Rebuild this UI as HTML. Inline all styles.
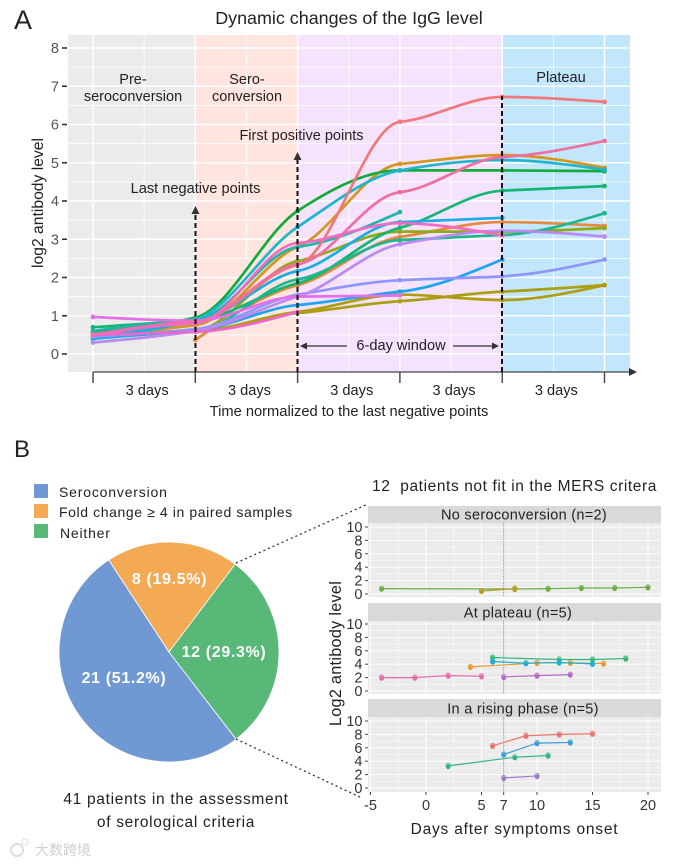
<!DOCTYPE html>
<html lang="en">
<head>
<meta charset="utf-8">
<title>IgG dynamics and serological criteria</title>
<style>
html,body{margin:0;padding:0;background:#fff;width:685px;height:864px;overflow:hidden}
svg{display:block;font-family:"Liberation Sans","Noto Sans CJK SC",sans-serif}
text{fill:#222}
</style>
</head>
<body>
<svg id="fig" xmlns="http://www.w3.org/2000/svg" width="685" height="864" viewBox="0 0 685 864">
  <text x="14" y="29" font-size="27">A</text>
  <text x="14" y="457" font-size="24">B</text>
  <text x="349" y="24" font-size="17.9" text-anchor="middle">Dynamic changes of the IgG level</text>
  <g id="panelA"></g>
  <g id="panelAnnot">
    <text x="133" y="84" font-size="14.5" text-anchor="middle">Pre-</text>
    <text x="133" y="101" font-size="14.5" text-anchor="middle">seroconversion</text>
    <text x="247" y="84" font-size="14.5" text-anchor="middle">Sero-</text>
    <text x="247" y="101" font-size="14.5" text-anchor="middle">conversion</text>
    <text x="561" y="82" font-size="14.6" text-anchor="middle">Plateau</text>
    <text x="301.5" y="140" font-size="14.5" text-anchor="middle">First positive points</text>
    <text x="195.5" y="193" font-size="14.6" text-anchor="middle">Last negative points</text>
    <line x1="195.5" y1="372" x2="195.5" y2="212" stroke="#111" stroke-width="2" stroke-dasharray="5 3"/>
    <path d="M195.5 206L191.5 214H199.5Z" fill="#333"/>
    <line x1="297.5" y1="372" x2="297.5" y2="159" stroke="#111" stroke-width="2" stroke-dasharray="5 3"/>
    <path d="M297.5 152L293.5 160H301.5Z" fill="#333"/>
    <line x1="502" y1="372" x2="502" y2="96" stroke="#111" stroke-width="2" stroke-dasharray="5 3"/>
    <line x1="347" y1="346" x2="306" y2="346" stroke="#333" stroke-width="1.2"/>
    <path d="M300 346L307 342.5V349.5Z" fill="#333"/>
    <line x1="453" y1="346" x2="493" y2="346" stroke="#333" stroke-width="1.2"/>
    <path d="M499 346L492 342.5V349.5Z" fill="#333"/>
    <text x="401" y="350" font-size="14.6" text-anchor="middle">6-day window</text>
    <text x="349" y="416" font-size="14.7" text-anchor="middle">Time normalized to the last negative points</text>
    <text transform="translate(43 203) rotate(-90)" font-size="15.7" text-anchor="middle">log2 antibody level</text>
  </g>
  <g id="legend">
    <rect x="34" y="484" width="14" height="14" fill="#7099D3"/>
    <text x="59" y="497" font-size="14" letter-spacing="0.82">Seroconversion</text>
    <rect x="34" y="504" width="14" height="14" fill="#F4A955"/>
    <text x="59" y="517" font-size="14" letter-spacing="0.6">Fold change ≥ 4 in paired samples</text>
    <rect x="34" y="524" width="14" height="14" fill="#57B878"/>
    <text x="60" y="538" font-size="14" letter-spacing="0.8">Neither</text>
  </g>
  <g id="pie"></g>
  <line x1="236" y1="563" x2="368" y2="504" stroke="#333" stroke-width="1.3" stroke-dasharray="2 3"/>
  <line x1="236" y1="739" x2="362" y2="798" stroke="#333" stroke-width="1.3" stroke-dasharray="2 3"/>
  <text x="176" y="804" font-size="15.5" letter-spacing="0.7" text-anchor="middle">41 patients in the assessment</text>
  <text x="176" y="827" font-size="15.5" letter-spacing="0.7" text-anchor="middle">of serological criteria</text>
  <text x="514.5" y="491" font-size="15.5" letter-spacing="0.6" text-anchor="middle">12 &#160;patients not fit in the MERS critera</text>
  <g id="facets"></g>
  <text transform="translate(341 653.5) rotate(-90)" font-size="16.2" letter-spacing="0.3" text-anchor="middle">Log2 antibody level</text>
  <text x="514.5" y="834" font-size="15.5" letter-spacing="0.8" text-anchor="middle">Days after symptoms onset</text>
  <text x="35" y="855" font-size="14" style="fill:#cfcfcf">大数跨境</text>
  <circle cx="17" cy="850" r="6" fill="none" stroke="#ddd" stroke-width="2"/>
  <circle cx="25" cy="842" r="3" fill="none" stroke="#ddd" stroke-width="1"/>
</svg>
<script>
// ---- Panel A data ----
const dayTicks = [0, 3, 6, 9, 12, 15];
const yTicksA = [0, 1, 2, 3, 4, 5, 6, 7, 8];
const intervalLabels = ["3 days", "3 days", "3 days", "3 days", "3 days"];
const seriesGold = [0.45, 0.75, 2.8, 4.97, 5.2, 4.87];
const seriesSalmon = [0.5, 0.85, 2.33, 6.07, 6.72, 6.59];
const seriesRose = [0.5, 0.85, 2.35, 4.23, 5.15, 5.57];
const seriesCyan = [0.45, 0.9, 3.32, 4.8, 5.07, 4.82];
const seriesGreen = [0.6, 0.95, 3.74, 4.8, 4.8, 4.78];
const seriesEmerald = [0.7, 0.88, 1.85, 3.3, 4.27, 4.39];
const seriesTeal = [0.6, 0.9, 2.8, 3.71, null, null];
const seriesSea = [0.4, 0.6, 1.95, 2.98, 3.11, 3.68];
const seriesSky = [0.4, 0.85, 2.17, 3.45, 3.56, null];
const seriesOrange = [null, 0.37, 1.8, 3.06, 3.45, 3.35];
const seriesOliveGreen = [0.5, 0.62, 2.43, 3.2, 3.2, 3.29];
const seriesPurple = [0.3, 0.6, 1.5, 2.87, 3.22, 3.07];
const seriesOrchid = [0.5, 0.8, 2.9, 3.42, 3.1, null];
const seriesPeriwinkle = [0.45, 0.65, 1.55, 1.93, 2.03, 2.47];
const seriesAzure = [0.4, 0.62, 1.28, 1.63, 2.47, null];
const seriesOliveA = [0.55, 0.6, 1.07, 1.38, 1.63, 1.8];
const seriesOliveB = [0.5, 0.58, 1.1, 1.55, 1.41, 1.8];
const seriesViolet = [0.97, 0.87, 1.5, 1.53, null, null];
const seriesMagenta = [0.5, 0.58, 1.1, null, null, null];

// ---- Panel B data ----
const pieLabels = ["21 (51.2%)", "8 (19.5%)", "12 (29.3%)"];
const pieValues = [21, 8, 12];

// ---- Facet data ----
const facetTitles = ["No seroconversion (n=2)", "At plateau (n=5)", "In a rising phase (n=5)"];
const facetYTicks = [0, 2, 4, 6, 8, 10];
const facetXTicks = [-5, 0, 5, 7, 10, 15, 20];
const p1GreenDays = [-4, 8, 11, 14, 17, 20];
const p1GreenVals = [0.8, 0.75, 0.8, 0.9, 0.9, 1.0];
const p1GoldDays = [5, 8];
const p1GoldVals = [0.45, 0.8];
const p2GreenDays = [6, 12, 15, 18];
const p2GreenVals = [5.0, 4.7, 4.7, 4.85];
const p2BlueDays = [6, 9, 12, 15];
const p2BlueVals = [4.4, 4.15, 4.25, 4.05];
const p2OrangeDays = [4, 10, 13, 16];
const p2OrangeVals = [3.6, 4.2, 4.2, 4.1];
const p2PinkDays = [-4, -1, 2, 5];
const p2PinkVals = [2.0, 2.0, 2.3, 2.2];
const p2PurpleDays = [7, 10, 13];
const p2PurpleVals = [2.1, 2.3, 2.45];
const p3RedDays = [6, 9, 12, 15];
const p3RedVals = [6.3, 7.8, 8.0, 8.1];
const p3BlueDays = [7, 10, 13];
const p3BlueVals = [5.0, 6.7, 6.8];
const p3GreenDays = [2, 8, 11];
const p3GreenVals = [3.3, 4.6, 4.85];
const p3PurpleDays = [7, 10];
const p3PurpleVals = [1.5, 1.8];

// ---- Helpers ----
const NS = "http://www.w3.org/2000/svg";
function mk(parent, tag, props, txt) {
  const el = document.createElementNS(NS, tag);
  for (const k in props) el.setAttribute(k, props[k]);
  if (txt !== undefined) el.textContent = txt;
  parent.appendChild(el);
  return el;
}
function smoothPath(pts, ease) {
  const n = pts.length;
  if (n < 2) return "";
  const s = [], m = [];
  for (let i = 0; i < n - 1; i++) s.push((pts[i + 1][1] - pts[i][1]) / (pts[i + 1][0] - pts[i][0]));
  for (let i = 1; i < n - 1; i++) {
    const sign = (Math.sign(s[i - 1]) + Math.sign(s[i])) || 0;
    m[i] = ease * sign * Math.min(Math.abs(s[i - 1]), Math.abs(s[i]), 0.25 * Math.abs(s[i - 1] + s[i]));
  }
  m[0] = n > 2 ? (3 * s[0] - m[1]) / 2 : s[0];
  m[n - 1] = n > 2 ? (3 * s[n - 2] - m[n - 2]) / 2 : s[0];
  let d = "M" + pts[0][0].toFixed(2) + " " + pts[0][1].toFixed(2);
  for (let i = 0; i < n - 1; i++) {
    const h = (pts[i + 1][0] - pts[i][0]) / 3;
    d += "C" + (pts[i][0] + h).toFixed(2) + " " + (pts[i][1] + m[i] * h).toFixed(2) + " " +
      (pts[i + 1][0] - h).toFixed(2) + " " + (pts[i + 1][1] - m[i + 1] * h).toFixed(2) + " " +
      pts[i + 1][0].toFixed(2) + " " + pts[i + 1][1].toFixed(2);
  }
  return d;
}

// ---- Panel A ----
(function () {
  const g = document.getElementById("panelA");
  const xA = d => 93 + d * 34.1;
  const yA = v => 354 - v * 38.25;
  const bandEdges = [[68, xA(3), "#EBEBEB", "band-pre-seroconversion"], [xA(3), xA(6), "#FFE4E0", "band-seroconversion"], [xA(6), xA(12), "#F5E2FC", "band-window"], [xA(12), 630, "#C2E6FC", "band-plateau"]];
  bandEdges.forEach(b => {
    const r = mk(g, "rect", { x: b[0], y: 35, width: b[1] - b[0], height: 337, fill: b[2] });
    
    
  });
  yTicksA.forEach(v => {
    const l = mk(g, "line", { x1: 68, x2: 630, y1: yA(v), y2: yA(v), stroke: "#fff", "stroke-width": 1.5 });
    
    
    const lm = mk(g, "line", { x1: 68, x2: 630, y1: yA(v + 0.5), y2: yA(v + 0.5), stroke: "#fff", "stroke-width": 0.8 });
    
    
    const t = mk(g, "line", { x1: 62, x2: 67, y1: yA(v), y2: yA(v), stroke: "#333", "stroke-width": 1.6 });
    
    
    const tx = mk(g, "text", { x: 59, y: yA(v) + 5, "font-size": 14.5, "text-anchor": "end", style: "fill:#555" }, String(v));
    
    
  });
  dayTicks.forEach(d => {
    const l = mk(g, "line", { x1: xA(d), x2: xA(d), y1: 35, y2: 372, stroke: "#fff", "stroke-width": 1.5 });
    
    
    if (d < 15) {
      const lm = mk(g, "line", { x1: xA(d + 1.5), x2: xA(d + 1.5), y1: 35, y2: 372, stroke: "#fff", "stroke-width": 0.8 });
      
      
    }
  });
  const seriesList = [
    [seriesGold, "#D4961E", "series-gold", 0.5], [seriesOrange, "#E58A3C", "series-orange", 0.5],
    [seriesOliveA, "#A8A010", "series-olive-a", 0.6], [seriesOliveB, "#B09C10", "series-olive-b", 0.6],
    [seriesOliveGreen, "#8FAA1A", "series-olive-green", 0.4], [seriesEmerald, "#16B574", "series-emerald", 0.55],
    [seriesGreen, "#12AC3C", "series-green", 0.9], [seriesSea, "#1DB68E", "series-sea", 0.35],
    [seriesTeal, "#1FB6A8", "series-teal", 0.25], [seriesCyan, "#1FB5CC", "series-cyan", 0.9],
    [seriesAzure, "#1EA5F0", "series-azure", 0.45], [seriesSky, "#19ADE4", "series-sky", 0.4],
    [seriesPeriwinkle, "#8E96FA", "series-periwinkle", 0.7], [seriesPurple, "#B98AF0", "series-purple", 0.7],
    [seriesSalmon, "#F0787A", "series-salmon", 0.2], [seriesViolet, "#E46FE8", "series-violet", 0.3],
    [seriesMagenta, "#EE66C8", "series-magenta", 0.6], [seriesRose, "#EE6FA0", "series-rose", 0.2],
    [seriesOrchid, "#F06CC0", "series-orchid", 0.15]
  ];
  seriesList.forEach(s => {
    const pts = [];
    s[0].forEach((v, i) => { if (v !== null) pts.push([xA(dayTicks[i]), yA(v)]); });
    const p = mk(g, "path", { d: smoothPath(pts, s[3]), fill: "none", stroke: s[1], "stroke-width": 2.7, "stroke-linecap": "round" });
    
    
    pts.forEach(pt => {
      const c = mk(g, "circle", { cx: pt[0], cy: pt[1], r: 2.4, fill: s[1] });
      
      
    });
  });
  const axis = mk(g, "line", { x1: 93, x2: 630, y1: 372, y2: 372, stroke: "#444", "stroke-width": 1.2 });
  
  
  const head = mk(g, "path", { d: "M637 372L629 368V376Z", fill: "#333" });
  
  
  dayTicks.forEach(d => {
    const t = mk(g, "line", { x1: xA(d), x2: xA(d), y1: 372, y2: 383, stroke: "#444", "stroke-width": 1.4 });
    
    
  });
  intervalLabels.forEach((lab, i) => {
    const t = mk(g, "text", { x: xA(dayTicks[i] + 1.5) + 3, y: 395, "font-size": 14.6, "text-anchor": "middle" }, lab);
    
    
  });
})();

// ---- Pie ----
(function () {
  const g = document.getElementById("pie");
  const cx = 169, cy = 652, r = 110;
  const pieColors = ["#7099D3", "#F4A955", "#57B878"];
  const pieNames = ["slice-seroconversion", "slice-fold-change", "slice-neither"];
  const labelPos = [[124, 683], [169.5, 584], [224, 657]];
  const total = pieValues.reduce((a, b) => a + b, 0);
  let a = 142.4 * Math.PI / 180;
  pieValues.forEach((v, i) => {
    const sweep = v / total * 2 * Math.PI;
    const x0 = cx + r * Math.sin(a), y0 = cy - r * Math.cos(a);
    const x1 = cx + r * Math.sin(a + sweep), y1 = cy - r * Math.cos(a + sweep);
    const p = mk(g, "path", {
      d: "M" + cx + " " + cy + "L" + x0 + " " + y0 + "A" + r + " " + r + " 0 " + (sweep > Math.PI ? 1 : 0) + " 1 " + x1 + " " + y1 + "Z",
      fill: pieColors[i], stroke: "#fff", "stroke-width": 0.8
    });
    
    
    a += sweep;
  });
  pieLabels.forEach((lab, i) => {
    const t = mk(g, "text", { x: labelPos[i][0], y: labelPos[i][1], "font-size": 16, "font-weight": "bold", "text-anchor": "middle", "letter-spacing": 0.65, style: "fill:#fff" }, lab);
    
    
  });
})();

// ---- Facets ----
(function () {
  const g = document.getElementById("facets");
  const xF = d => 426 + d * 11.1;
  const facets = [
    { top: 506, stripB: 523, bottom: 597, y0: 594, labelX: 524, series: [[p1GreenDays, p1GreenVals, "#6BAE3E"], [p1GoldDays, p1GoldVals, "#B5A020"]] },
    { top: 603, stripB: 621, bottom: 694, y0: 691, labelX: 518, series: [[p2OrangeDays, p2OrangeVals, "#E69B2E"], [p2GreenDays, p2GreenVals, "#35B779"], [p2BlueDays, p2BlueVals, "#1BB0D8"], [p2PinkDays, p2PinkVals, "#E56BA8"], [p2PurpleDays, p2PurpleVals, "#B26BC0"]] },
    { top: 699, stripB: 717, bottom: 792, y0: 788, labelX: 523, series: [[p3RedDays, p3RedVals, "#E8746A"], [p3BlueDays, p3BlueVals, "#3C9BD8"], [p3GreenDays, p3GreenVals, "#35B28C"], [p3PurpleDays, p3PurpleVals, "#9A7CC8"]] }
  ];
  facets.forEach((f, idx) => {
    const yF = v => f.y0 - v * 6.7;
    const strip = mk(g, "rect", { x: 368, y: f.top, width: 293, height: f.stripB - f.top, fill: "#D9D9D9" });
    
    
    const st = mk(g, "text", { x: f.labelX, y: f.stripB - 3.5, "font-size": 14.5, "letter-spacing": 0.3, "text-anchor": "middle" }, facetTitles[idx]);
    
    
    const bg = mk(g, "rect", { x: 368, y: f.stripB, width: 293, height: f.bottom - f.stripB, fill: "#EBEBEB" });
    
    
    facetYTicks.forEach(v => {
      const l = mk(g, "line", { x1: 368, x2: 661, y1: yF(v), y2: yF(v), stroke: "#fff", "stroke-width": 0.9 });
      
      
      if (v < 10) {
        const lm = mk(g, "line", { x1: 368, x2: 661, y1: yF(v + 1), y2: yF(v + 1), stroke: "#fff", "stroke-width": 0.4 });
        
        
      }
      const t = mk(g, "line", { x1: 365, x2: 368, y1: yF(v), y2: yF(v), stroke: "#444", "stroke-width": 1 });
      
      
      const tx = mk(g, "text", { x: 362.5, y: yF(v) + 5, "font-size": 14.5, "text-anchor": "end", style: "fill:#333" }, String(v));
      
      
    });
    facetXTicks.filter(d => d !== 7).forEach(d => {
      const l = mk(g, "line", { x1: xF(d), x2: xF(d), y1: f.stripB, y2: f.bottom, stroke: "#fff", "stroke-width": 0.9 });
      
      
      const lm = mk(g, "line", { x1: xF(d + 2.5), x2: xF(d + 2.5), y1: f.stripB, y2: f.bottom, stroke: "#fff", "stroke-width": 0.4 });
      
      
    });
    const ref = mk(g, "line", { x1: xF(7), x2: xF(7), y1: f.stripB, y2: f.bottom, stroke: "#666", "stroke-width": 0.8, "stroke-dasharray": "1 1.3" });
    
    
    f.series.forEach(s => {
      const pts = s[0].map((d, i) => xF(d).toFixed(2) + "," + yF(s[1][i]).toFixed(2)).join(" ");
      const pl = mk(g, "polyline", { points: pts, fill: "none", stroke: s[2], "stroke-width": 1.2 });
      
      
      s[0].forEach((d, i) => {
        const c = mk(g, "circle", { cx: xF(d), cy: yF(s[1][i]) + 0.9, r: 2.3, fill: s[2] });
        
        
        const o = mk(g, "circle", { cx: xF(d), cy: yF(s[1][i]) - 0.4, r: 2.2, fill: s[2], "fill-opacity": 0.45, stroke: s[2], "stroke-width": 0.7 });
        
        
      });
    });
  });
  facetXTicks.forEach(d => {
    const t = mk(g, "line", { x1: xF(d), x2: xF(d), y1: 792, y2: 795, stroke: "#444", "stroke-width": 1 });
    
    
    const tx = mk(g, "text", { x: xF(d), y: 810, "font-size": 14.5, "text-anchor": "middle", style: "fill:#333" }, String(d));
    
    
  });
})();
</script>
</body>
</html>
